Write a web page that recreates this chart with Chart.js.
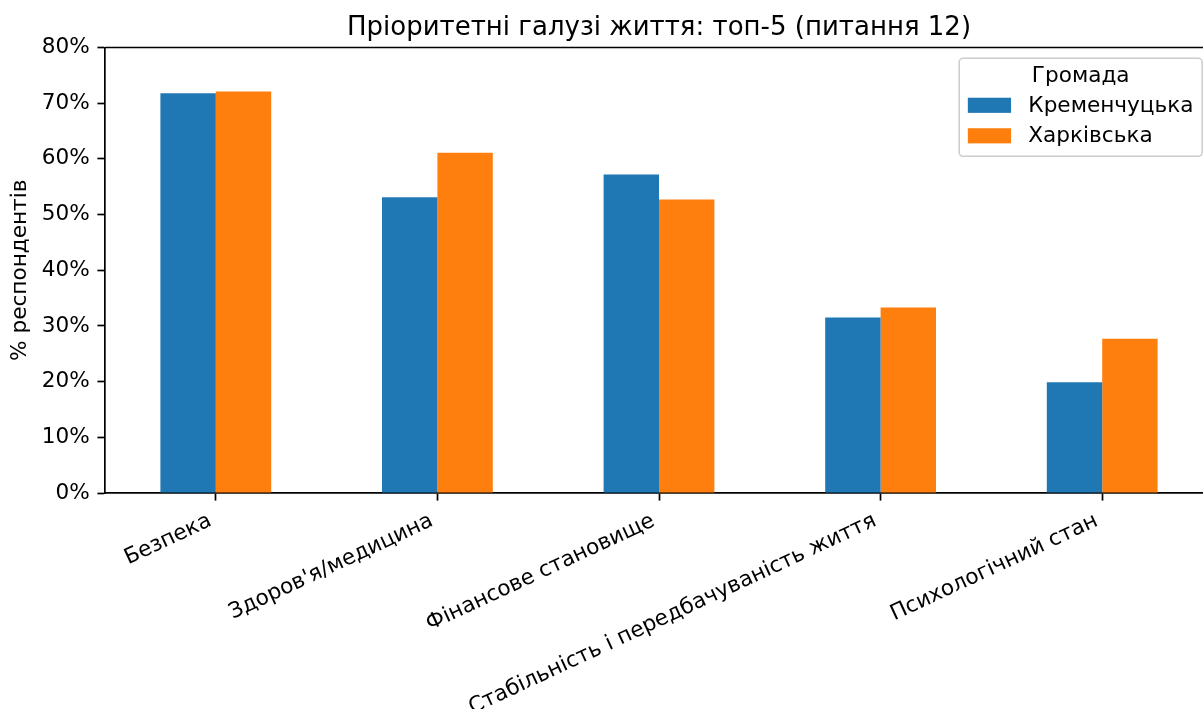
<!DOCTYPE html>
<html>
<head>
<meta charset="utf-8">
<script src="https://cdn.jsdelivr.net/npm/chart.js@4.4.0/dist/chart.umd.min.js"></script>
<style>
  html, body { margin: 0; padding: 0; background: #fff; overflow: hidden; }
  canvas { display: block; }
</style>
</head>
<body>
<canvas id="myChart" width="1230" height="709"></canvas>
<script>
// data
const categories = ["Безпека", "Здоров'я/медицина", "Фінансове становище", "Стабільність і передбачуваність життя", "Психологічний стан"];
const kremenchutska = [71.8, 53.1, 57.2, 31.5, 19.9];
const kharkivska = [72.1, 61.1, 52.7, 33.3, 27.7];
const seriesNames = ["Кременчуцька", "Харківська"];
const legendTitle = "Громада";
const chartTitle = "Пріоритетні галузі життя: топ-5 (питання 12)";
const yAxisTitle = "% респондентів";
const yMax = 80;
const yStep = 10;

const fontFamily = "'DejaVu Sans', sans-serif";
const fs = 21.6;
const lw = 1.7;
const tickLen = 7.6;
Chart.defaults.font.family = fontFamily;
Chart.defaults.color = '#000';

// title over the axes centre + top/right spines
const titlePlugin = {
  id: 'axTitle',
  afterDraw(chart) {
    const ctx = chart.ctx, a = chart.chartArea;
    ctx.save();
    ctx.font = '26px ' + fontFamily;
    ctx.fillStyle = '#000';
    ctx.textAlign = 'center';
    ctx.textBaseline = 'alphabetic';
    ctx.fillText(chartTitle, (a.left + a.right) / 2, a.top - 12.5);
    ctx.strokeStyle = '#000';
    ctx.lineWidth = lw;
    ctx.beginPath();
    ctx.moveTo(a.left, a.top);
    ctx.lineTo(a.right, a.top);
    ctx.lineTo(a.right, a.bottom);
    ctx.stroke();
    ctx.restore();
  }
};

// legend box in upper right of the axes
const legendPlugin = {
  id: 'boxLegend',
  afterDraw(chart) {
    const ctx = chart.ctx, a = chart.chartArea;
    ctx.save();
    ctx.font = fs + 'px ' + fontFamily;
    const sets = chart.data.datasets;
    let tw = ctx.measureText(legendTitle).width;
    sets.forEach(d => { tw = Math.max(tw, ctx.measureText(d.label).width); });
    const pad = 0.4 * fs, hl = 2 * fs, hp = 0.8 * fs;
    const right = a.right - 0.5 * fs;
    const top = a.top + 0.5 * fs;
    const w = pad + hl + hp + tw + pad;
    const left = right - w;
    const h = 98;
    ctx.beginPath();
    ctx.roundRect(left, top, w, h, 4);
    ctx.fillStyle = 'rgba(255,255,255,0.8)';
    ctx.fill();
    ctx.strokeStyle = '#cccccc';
    ctx.lineWidth = 1.5;
    ctx.stroke();
    ctx.fillStyle = '#000';
    ctx.textBaseline = 'middle';
    ctx.textAlign = 'center';
    ctx.fillText(legendTitle, left + w / 2, top + 18.5);
    ctx.textAlign = 'left';
    const rows = [top + 47, top + 77.5];
    sets.forEach((d, i) => {
      ctx.fillStyle = d.backgroundColor;
      ctx.fillRect(left + pad, rows[i] - 0.35 * fs, hl, 0.7 * fs);
      ctx.fillStyle = '#000';
      ctx.fillText(d.label, left + pad + hl + hp, rows[i] + 1);
    });
    ctx.restore();
  }
};

new Chart(document.getElementById('myChart'), {
  type: 'bar',
  data: {
    labels: categories,
    datasets: [
      { label: seriesNames[0], data: kremenchutska, backgroundColor: '#1f77b4', borderWidth: 0,
        categoryPercentage: 0.5, barPercentage: 1.0 },
      { label: seriesNames[1], data: kharkivska, backgroundColor: '#ff7f0e', borderWidth: 0,
        categoryPercentage: 0.5, barPercentage: 1.0 }
    ]
  },
  options: {
    responsive: false,
    animation: false,
    devicePixelRatio: 1,
    layout: { padding: { top: 47.5, right: 17, bottom: 0, left: 0 } },
    plugins: {
      legend: { display: false },
      tooltip: { enabled: false },
      title: { display: false }
    },
    scales: {
      x: {
        grid: { display: true, drawOnChartArea: false, drawTicks: true, offset: false,
                tickLength: tickLen, tickWidth: lw, tickColor: '#000' },
        border: { display: true, color: '#000', width: lw },
        ticks: { autoSkip: false, minRotation: 25, maxRotation: 25, padding: 7.6, labelOffset: -5.5,
                 font: { size: fs }, color: '#000' },
        afterFit: s => { s.height = 216; }
      },
      y: {
        min: 0,
        max: yMax,
        grid: { display: true, drawOnChartArea: false, drawTicks: true,
                tickLength: tickLen, tickWidth: lw, tickColor: '#000' },
        border: { display: true, color: '#000', width: lw },
        ticks: { stepSize: yStep, padding: 7.6, font: { size: fs }, color: '#000',
                 callback: v => v + '%' },
        title: { display: true, text: yAxisTitle, font: { size: fs }, color: '#000',
                 padding: { top: 7.5, bottom: 0 } },
        afterFit: s => { s.width = 105; }
      }
    }
  },
  plugins: [titlePlugin, legendPlugin]
});
</script>
</body>
</html>
